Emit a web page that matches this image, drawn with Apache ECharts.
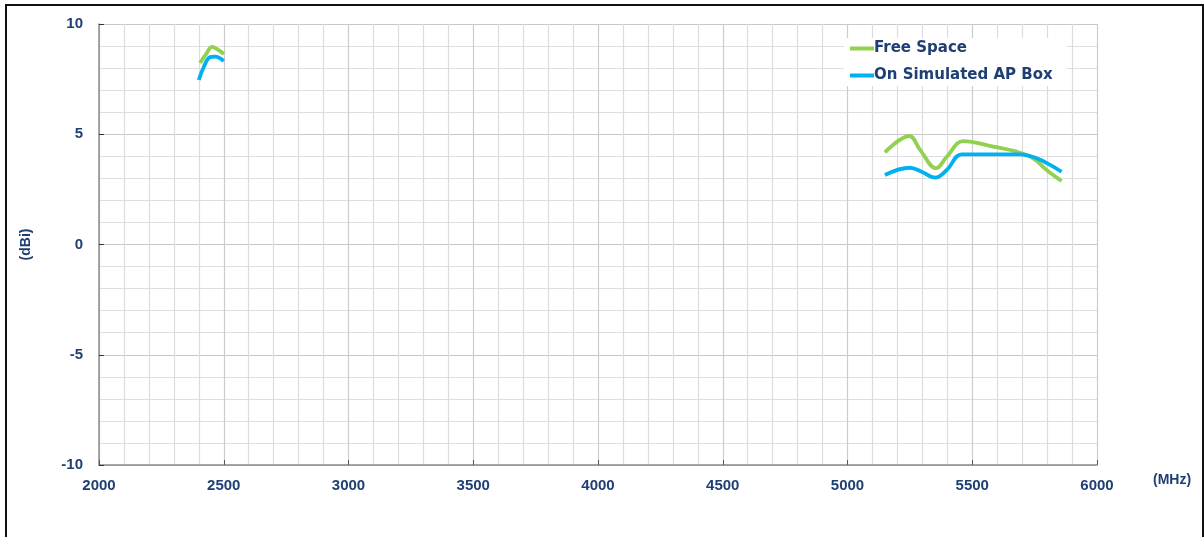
<!DOCTYPE html>
<html>
<head>
<meta charset="utf-8">
<script src="https://cdn.jsdelivr.net/npm/echarts@6/dist/echarts.min.js"></script>
<style>
html,body{margin:0;padding:0;background:#fff;}
#wrap{position:relative;width:1204px;height:537px;overflow:hidden;}
#frame{position:absolute;left:5px;top:4px;width:1199px;height:560px;border:2px solid #111;box-sizing:border-box;}
#chart{position:absolute;left:0;top:0;width:1204px;height:537px;}
</style>
</head>
<body>
<div id="wrap"><div id="frame"></div><div id="chart"></div></div>
<script>
// Free Space, 2.4 GHz band
const freeLowX = [2405, 2430, 2453, 2475, 2501];
const freeLowY = [8.23, 8.65, 8.96, 8.85, 8.64];
// On Simulated AP Box, 2.4 GHz band
const boxLowX = [2400, 2420, 2445, 2465, 2500];
const boxLowY = [7.46, 8.05, 8.5, 8.52, 8.32];
// Free Space, 5 GHz band
const freeHighX = [5150, 5248, 5291, 5355, 5398, 5464, 5584, 5678, 5744, 5798, 5858];
const freeHighY = [4.18, 4.92, 4.29, 3.46, 3.98, 4.69, 4.44, 4.21, 3.91, 3.38, 2.88];
// On Simulated AP Box, 5 GHz band
const boxHighX = [5150, 5250, 5297, 5351, 5398, 5458, 5584, 5691, 5758, 5812, 5858];
const boxHighY = [3.15, 3.48, 3.30, 3.03, 3.38, 4.09, 4.09, 4.09, 3.91, 3.61, 3.30];
const seriesNames = ['Free Space', 'On Simulated AP Box'];
const xTicks = [2000, 2500, 3000, 3500, 4000, 4500, 5000, 5500, 6000];
const yTicks = [-10, -5, 0, 5, 10];

const zip = (xs, ys) => xs.map((x, i) => [x, ys[i]]);
const GREEN = '#92D050', BLUE = '#00B0F0', NAVY = '#1F3F73';
const AFONT = 'Liberation Sans, Arial, sans-serif';
const VFONT = 'DejaVu Sans, Verdana, sans-serif';
const labelFont = {color: NAVY, fontWeight: 'bold', fontSize: 15, fontFamily: AFONT};

function line(name, color, data, z) {
  return {
    name: name, type: 'line', data: data, smooth: 0.4, symbol: 'none', z: z,
    lineStyle: {color: color, width: 3.8}, itemStyle: {color: color}
  };
}

const chart = echarts.init(document.getElementById('chart'), null, {renderer: 'canvas'});
chart.setOption({
  animation: false,
  backgroundColor: 'transparent',
  grid: {left: 99, top: 24, right: 107, bottom: 72},
  legend: {
    data: seriesNames, orient: 'vertical', left: 844, top: 38,
    backgroundColor: '#fff', padding: [3, 14, 3, 6],
    itemWidth: 24, itemHeight: 4, itemGap: 12, icon: 'rect',
    textStyle: {color: NAVY, fontWeight: 'bold', fontSize: 15, fontFamily: VFONT, padding: [0, 0, 0, -5]}
  },
  xAxis: {
    type: 'value', min: xTicks[0], max: xTicks[xTicks.length - 1], interval: 500,
    axisLine: {onZero: false, lineStyle: {color: '#8C8C8C', width: 1.5}},
    axisTick: {inside: true, length: 5, lineStyle: {color: '#595959'}},
    axisLabel: Object.assign({margin: 13, formatter: v => String(v)}, labelFont),
    splitLine: {lineStyle: {color: '#CCCCCC', width: 1.2}},
    minorTick: {show: true, splitNumber: 5, length: 0},
    minorSplitLine: {show: true, lineStyle: {color: '#DCDCDC', width: 1.2}}
  },
  yAxis: {
    type: 'value', min: yTicks[0], max: yTicks[yTicks.length - 1], interval: 5,
    name: '(dBi)', nameLocation: 'middle', nameGap: 66,
    nameTextStyle: Object.assign({}, labelFont, {fontSize: 14}),
    axisLine: {show: true, lineStyle: {color: '#8C8C8C', width: 1.5}},
    axisTick: {show: true, inside: true, length: 5, lineStyle: {color: '#333'}},
    axisLabel: Object.assign({margin: 16}, labelFont),
    splitLine: {lineStyle: {color: '#C8C8C8', width: 1.2}},
    minorTick: {show: true, splitNumber: 5, length: 0},
    minorSplitLine: {show: true, lineStyle: {color: '#DEDEDE', width: 1.2}}
  },
  graphic: [{
    type: 'text', left: 1153, top: 473,
    style: {text: '(MHz)', fill: NAVY, font: 'bold 14px Liberation Sans, Arial, sans-serif'}
  }],
  series: [
    line(seriesNames[0], GREEN, zip(freeLowX, freeLowY), 3),
    line(seriesNames[1], BLUE, zip(boxLowX, boxLowY), 3),
    line(seriesNames[0], GREEN, zip(freeHighX, freeHighY), 3),
    line(seriesNames[1], BLUE, zip(boxHighX, boxHighY), 4)
  ]
});
</script>
</body>
</html>
